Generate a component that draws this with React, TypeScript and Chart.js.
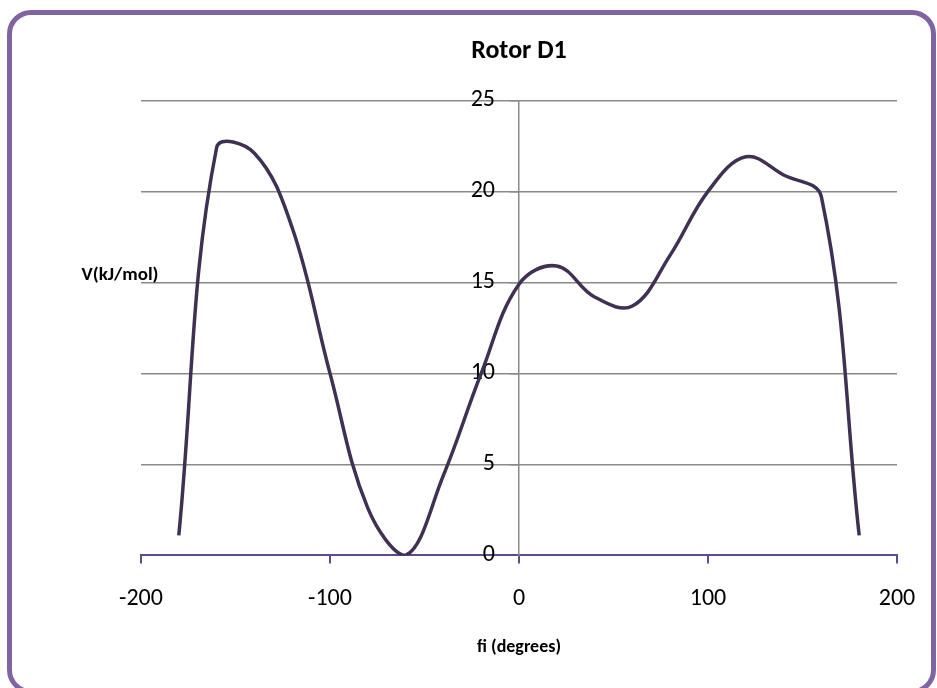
import React, { useEffect, useRef } from "react";
import { Chart, registerables } from "chart.js";

Chart.register(...registerables);

const chartTitle = "Rotor D1";
const xTitle = "fi (degrees)";
const yTitle = "V(kJ/mol)";
const fiDegrees = [-180, -160, -140, -120, -100, -80, -60, -40, -20, 0, 20, 40, 60, 80, 100, 120, 140, 160, 180];
const energies = [1.1, 22.4, 22.1, 18.0, 10.0, 2.6, 0.0, 4.4, 10.0, 14.9, 15.9, 14.2, 13.7, 16.5, 20.0, 21.9, 20.9, 19.7, 1.1];
const xTicks = [-200, -100, 0, 100, 200];
const yTicks = [0, 5, 10, 15, 20, 25];

const FONT = "Carlito, Calibri, Lato, sans-serif";

export default function App() {
  const ref = useRef<HTMLCanvasElement | null>(null);

  useEffect(() => {
    if (!ref.current) return;
    const yTitlePlugin = {
      id: "yTitleHorizontal",
      afterDraw(chart: any) {
        const ctx = chart.ctx;
        ctx.save();
        ctx.font = `bold 19px ${FONT}`;
        ctx.fillStyle = "#000";
        ctx.textAlign = "center";
        ctx.textBaseline = "middle";
        ctx.fillText(yTitle, 120, 275);
        ctx.restore();
      },
    };
    const chart = new Chart(ref.current, {
      type: "scatter",
      data: {
        datasets: [
          {
            data: fiDegrees.map((x, i) => ({ x, y: energies[i] })),
            showLine: true,
            borderColor: "#3f3151",
            borderWidth: 3.5,
            pointRadius: 0,
            tension: 0.38,
            fill: false,
          },
        ],
      },
      options: {
        animation: false,
        responsive: false,
        maintainAspectRatio: false,
        layout: { padding: { left: 141, right: 40, top: 0, bottom: 25.8 } },
        plugins: {
          legend: { display: false },
          tooltip: { enabled: false },
          title: {
            display: true,
            text: chartTitle,
            color: "#000",
            font: { family: FONT, size: 26, weight: "bold" },
            padding: { top: 35.6, bottom: 33.6 },
          },
        },
        scales: {
          x: {
            type: "linear",
            min: xTicks[0],
            max: xTicks[xTicks.length - 1],
            afterBuildTicks: (s: any) => {
              s.ticks = xTicks.map((v) => ({ value: v }));
            },
            ticks: {
              color: "#000",
              font: { family: FONT, size: 24 },
              padding: 21,
              maxRotation: 0,
            },
            grid: {
              drawOnChartArea: false,
              drawTicks: true,
              tickLength: 8,
              color: "#5f4a8b",
              lineWidth: 2,
            },
            border: { color: "#5f4a8b", width: 2 },
            title: {
              display: true,
              text: xTitle,
              color: "#000",
              font: { family: FONT, size: 18, weight: "bold" },
              padding: { top: 2.4, bottom: 4 },
            },
          },
          y: {
            type: "linear",
            position: { x: 0 } as any,
            min: yTicks[0],
            max: yTicks[yTicks.length - 1],
            afterBuildTicks: (s: any) => {
              s.ticks = yTicks.map((v) => ({ value: v }));
            },
            ticks: {
              color: "#000",
              font: { family: FONT, size: 24 },
              callback: (v: any) => String(v) + "\u2003",
            },
            grid: {
              color: (c: any) => (c.tick && c.tick.value === 0 ? "rgba(0,0,0,0)" : "#8a8a8a"),
              lineWidth: 1.5,
              tickLength: 8,
            },
            border: { color: "#8a8a8a", width: 1.5 },
          },
        },
      },
      plugins: [yTitlePlugin],
    });
    return () => chart.destroy();
  }, []);

  return (
    <div style={{ position: "fixed", left: 0, top: 0, width: 937, height: 688, background: "#fff", overflow: "hidden" }}>
      <canvas ref={ref} width={937} height={688} style={{ position: "absolute", left: 0, top: 0, width: 937, height: 688 }} />
      <div
        style={{
          position: "absolute",
          left: 7,
          top: 10,
          width: 919,
          height: 674,
          border: "5px solid #8064a2",
          borderRadius: 24,
          pointerEvents: "none",
        }}
      />
    </div>
  );
}
